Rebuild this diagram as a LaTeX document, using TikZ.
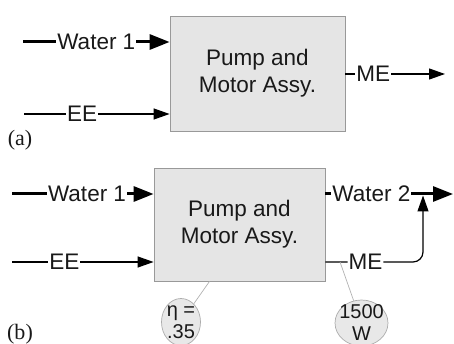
\documentclass[tikz,border=0pt]{standalone}
\usepackage{fontspec}
\setmainfont{Liberation Sans}
\newfontfamily\capfont{Liberation Serif}
\usetikzlibrary{arrows.meta, shapes.geometric}

\begin{document}
\begin{tikzpicture}[
  x=1pt, y=1pt,
  every node/.style={font=\fontsize{22.5}{27}\selectfont, text=black!90},
  block/.style={
    rectangle, draw=gray!80, fill=gray!20, line width=0.8pt,
    align=center, minimum width=175pt, minimum height=115pt
  },
  tag/.style={
    ellipse, draw=gray!65, fill=gray!18, line width=0.7pt,
    align=center, inner sep=-5pt, font=\fontsize{20}{22}\selectfont
  },
  flow/.style={line width=3pt, -{Triangle[length=20pt, width=15pt]}},
  energy/.style={line width=1.2pt, -{Triangle[length=16pt, width=11pt]}},
  lbl/.style={fill=white, inner sep=1pt},
  tie/.style={draw=gray!60, line width=0.7pt},
  panel/.style={font=\capfont\fontsize{22}{24}\selectfont}
]
\useasboundingbox (0,0) rectangle (454,-344);

% panel (a)
\node[block] (pma) at (257.5,-73.5) {Pump and\\Motor Assy.};
\coordinate (wina)  at (23,-42);
\coordinate (eina)  at (24,-114);
\coordinate (meout) at (445,-74);

\draw[flow] (wina) -- node[lbl, pos=0.5]{Water 1} (wina -| pma.west);
\draw[energy] (eina) -- node[lbl, pos=0.4]{EE} (eina -| pma.west);
\draw[energy] (meout -| pma.east) -- node[lbl, pos=0.28]{ME} (meout);

\node[panel] (capa) at (20,-140) {(a)};

% panel (b)
\node[block, minimum width=171pt, minimum height=113pt] (pmb) at (239.5,-224.5)
  {Pump and\\Motor Assy.};
\coordinate (winb)   at (12,-194);
\coordinate (einb)   at (12,-262);
\coordinate (woutb)  at (453,-194);
\coordinate (mebend) at (423,-262);

\draw[flow] (winb) -- node[lbl, pos=0.53]{Water 1} (winb -| pmb.west);
\draw[energy] (einb) -- node[lbl, pos=0.37]{EE} (einb -| pmb.west);
\draw[flow] (woutb -| pmb.east) -- node[lbl, pos=0.36]{Water 2} (woutb);
\draw[energy, rounded corners=10pt, shorten >=1.5pt] (mebend -| pmb.east)
  -- node[lbl, pos=0.41]{ME} coordinate[pos=0.15] (metap) (mebend)
  -- (mebend |- woutb);

% parameters
\node[tag, minimum width=39pt, minimum height=47pt] (eta) at (181,-322) {η =\\.35};
\node[tag, minimum width=53pt, minimum height=46pt] (pwr) at (361.5,-323) {1500\\W};
\draw[tie] (eta) -- ([xshift=-30pt]pmb.south);
\draw[tie] (pwr) -- (metap);

\node[panel] (capb) at (20,-334) {(b)};
\end{tikzpicture}
\end{document}
